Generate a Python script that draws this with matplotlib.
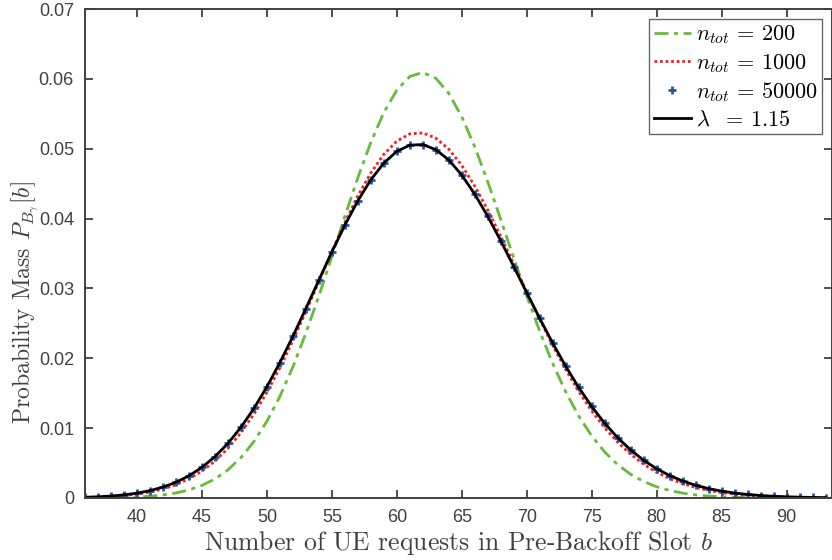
import matplotlib
matplotlib.use('Agg')
import matplotlib.pyplot as plt
import numpy as np

plt.rcParams['mathtext.fontset'] = 'cm'

# b = 36 ... 93
b = np.arange(36, 94)

p_n200 = [0.0000111, 0.0000221, 0.0000427, 0.0000798, 0.000145, 0.000254, 0.000433, 0.000716,
          0.001151, 0.001797, 0.002727, 0.004024, 0.005776, 0.008069, 0.010973, 0.014534,
          0.018754, 0.023584, 0.028911, 0.034560, 0.040298, 0.045846, 0.050902, 0.055169,
          0.058383, 0.060341, 0.06092, 0.060093, 0.057928, 0.054581, 0.050276, 0.045281,
          0.039883, 0.034359, 0.028956, 0.023875, 0.019263, 0.015210, 0.011755, 0.008893,
          0.006587, 0.004777, 0.003392, 0.002359, 0.001607, 0.001072, 0.000701, 0.000449,
          0.000281, 0.000173, 0.000104, 0.0000614, 0.0000355, 0.0000201, 0.0000112, 0.0000061,
          0.0000033, 0.0000017]

p_n1000 = [0.0000730, 0.000126, 0.000211, 0.000345, 0.000548, 0.000850, 0.001285, 0.001896,
           0.002731, 0.003842, 0.005281, 0.007097, 0.009329, 0.012001, 0.015114, 0.018641,
           0.022525, 0.026677, 0.030976, 0.035277, 0.039416, 0.043222, 0.046529, 0.049188,
           0.051078, 0.052115, 0.05226, 0.051519, 0.049942, 0.047617, 0.044665, 0.041227,
           0.037453, 0.033496, 0.029497, 0.025582, 0.021855, 0.018396, 0.015258, 0.012473,
           0.010052, 0.007987, 0.006258, 0.004836, 0.003686, 0.002772, 0.002057, 0.001506,
           0.001089, 0.000777, 0.000547, 0.000381, 0.000262, 0.000178, 0.000119, 0.0000788,
           0.0000516, 0.0000333]

p_n50000 = [0.000103, 0.000172, 0.000280, 0.000447, 0.000695, 0.001053, 0.001557, 0.002249,
            0.003174, 0.004380, 0.005914, 0.007814, 0.010110, 0.012814, 0.015915, 0.019380,
            0.023145, 0.027120, 0.031189, 0.035216, 0.039052, 0.042546, 0.045553, 0.047946,
            0.049624, 0.050519, 0.050600, 0.049876, 0.048393, 0.046232, 0.043498, 0.040315,
            0.036815, 0.033131, 0.029389, 0.025703, 0.022166, 0.018855, 0.015821, 0.013099,
            0.010702, 0.008631, 0.006871, 0.005401, 0.004192, 0.003214, 0.002433, 0.001821,
            0.001346, 0.000983, 0.000709, 0.000506, 0.000357, 0.000249, 0.000171, 0.000117,
            0.0000790, 0.0000527]

p_poisson = [0.000103, 0.000172, 0.000281, 0.000448, 0.000696, 0.001054, 0.001558, 0.002250,
             0.003175, 0.004381, 0.005915, 0.007815, 0.010111, 0.012814, 0.015915, 0.019379,
             0.023143, 0.027117, 0.031185, 0.035211, 0.039046, 0.042540, 0.045547, 0.047940,
             0.049618, 0.050513, 0.050594, 0.049871, 0.048390, 0.046231, 0.043499, 0.040318,
             0.036820, 0.033138, 0.029398, 0.025713, 0.022177, 0.018866, 0.015832, 0.013109,
             0.010711, 0.008638, 0.006877, 0.005406, 0.004196, 0.003217, 0.002436, 0.001823,
             0.001348, 0.000985, 0.000711, 0.000508, 0.000358, 0.000250, 0.000172, 0.000118,
             0.0000794, 0.0000530]

labels = [r'$n_{tot}\,=\,200$', r'$n_{tot}\,=\,1000$', r'$n_{tot}\,=\,50000$', r'$\lambda\ \ =\,1.15$']
xticks = [40, 45, 50, 55, 60, 65, 70, 75, 80, 85, 90]
yticks = [0, 0.01, 0.02, 0.03, 0.04, 0.05, 0.06, 0.07]
ytick_labels = ['0', '0.01', '0.02', '0.03', '0.04', '0.05', '0.06', '0.07']

gray = '#404040'

fig = plt.figure(figsize=(8.32, 5.6), dpi=100)
ax = fig.add_axes([85/832, 62/560, 1 - 85/832, 489/560])

ax.plot(b, p_n200, linestyle=(0, (5, 2, 1.5, 2)), color='#66bb3a', linewidth=2.0, label=labels[0])
ax.plot(b, p_n1000, linestyle=(0, (1, 1)), color='#ff1a1a', linewidth=2.0, label=labels[1])
ax.plot(b, p_n50000, linestyle='none', marker='+', color='#2b56a6', markersize=6,
        markeredgewidth=2.0, label=labels[2])
ax.plot(b, p_poisson, linestyle='-', color='black', linewidth=2.0, label=labels[3])

ax.set_xlim(36, 93.5)
ax.set_ylim(0, 0.07)
ax.set_xticks(xticks)
ax.set_yticks(yticks)
ax.set_yticklabels(ytick_labels)
ax.tick_params(direction='in', length=6, width=1.3, colors=gray, labelsize=13,
               top=True, right=True, pad=8)
for lab in ax.get_xticklabels() + ax.get_yticklabels():
    lab.set_family('Liberation Sans')
for s in ax.spines.values():
    s.set_color(gray)
    s.set_linewidth(1.4)

ax.set_xlabel(r'Number of UE requests in Pre-Backoff Slot $b$', family='cmr10',
              fontsize=18.5, color=gray, labelpad=2)
ax.set_ylabel(r'Probability Mass $P_{B_\gamma}[b]$', family='cmr10',
              fontsize=17, color=gray)
ax.yaxis.set_label_coords(-0.059, 0.40)

leg = ax.legend(loc='upper right', fontsize=16, frameon=True, fancybox=False,
                edgecolor=gray, handlelength=1.7, borderpad=0.2, labelspacing=0.25,
                handletextpad=0.2, borderaxespad=0.45)
leg.get_frame().set_linewidth(1.0)

fig.savefig('out.png', dpi=100)
